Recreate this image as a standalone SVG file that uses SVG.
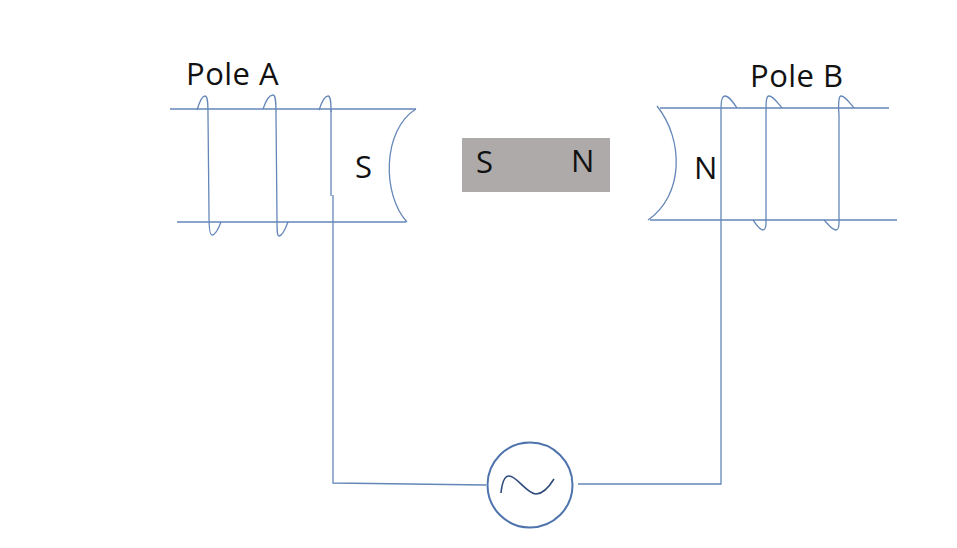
<svg xmlns="http://www.w3.org/2000/svg" width="957" height="548" viewBox="0 0 957 548">
<style>
.w{fill:none;stroke:#6587b8;stroke-width:1.3}
.c{fill:none;stroke:#4f74ad;stroke-width:2}
.t{font-family:"Open Sans","Liberation Sans",sans-serif;fill:#111;font-size:31px;letter-spacing:.5px}
</style>
<rect width="957" height="548" fill="#fff"/>
<g id="connectors">
<path class="w" d="M331 110L331 196M333 195L333 483L486 485"/>
<path class="w" d="M721 108L721 484L578 484"/>
</g>
<g id="pole-a">
<path class="w" d="M170 109H416M177 222H406"/>
<path class="w" d="M416 109C382 130 382 195 407 222"/>
<path class="w" d="M197 110C200 100 203 96 205 96C208 96 208 105 208 115L209 215C209 228 210 235 212 235C215 235 218 230 221 222"/>
<path class="w" d="M263 109C266 100 270 95 273 95C276 95 276 104 276 115L277 220C277 230 277 236 279 236C282 236 285 230 288 222"/>
<path class="w" d="M319 110C322 101 325 96 328 96C331 96 331 104 331 112"/>
<text class="t" x="186" y="85">Pole A</text>
<text class="t" x="355" y="178">S</text>
</g>
<g id="magnet">
<rect x="462" y="138" width="148" height="54" fill="#aeaaaa"/>
<text class="t" x="476" y="173">S</text>
<text class="t" x="571" y="172">N</text>
</g>
<g id="pole-b">
<path class="w" d="M660 108H889M650 220H897"/>
<path class="w" d="M657 106C684 140 684 195 648 220"/>
<path class="w" d="M721 108C721 100 722 96 725 96C729 96 733 102 737 108"/>
<path class="w" d="M766 115C766 102 766 96 769 96C773 96 777 102 782 108M766 115L766 222C766 228 765 230 763 230C759 230 756 224 753 220"/>
<path class="w" d="M839 115C838 102 839 96 841 96C845 96 849 102 854 108M839 115L839 222C839 228 838 230 836 230C832 230 828 224 824 220"/>
<text class="t" x="750" y="87">Pole B</text>
<text class="t" x="694" y="179">N</text>
</g>
<g id="source">
<circle class="c" cx="530" cy="485" r="42.5"/>
<path d="M501 493C502 483 504 476 509 476C517 476 527 494 536 494C543 494 549 487 554 479" fill="none" stroke="#2f4a7c" stroke-width="1.6"/>
</g>
</svg>
